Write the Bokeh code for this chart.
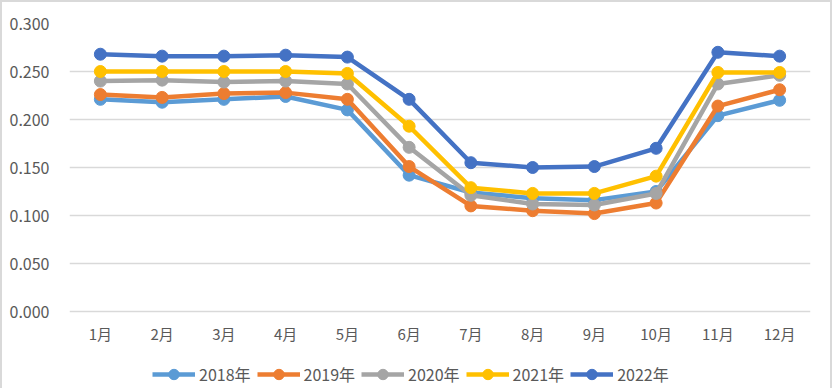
from bokeh.plotting import figure
from bokeh.models import NumeralTickFormatter, Legend, LegendItem, FixedTicker, Range1d
from bokeh.embed import file_html
from bokeh.resources import INLINE
from bokeh.core.properties import value

months = ["1月", "2月", "3月", "4月", "5月", "6月", "7月", "8月", "9月", "10月", "11月", "12月"]
series_names = ["2018年", "2019年", "2020年", "2021年", "2022年"]
y2018 = [0.221, 0.218, 0.221, 0.224, 0.210, 0.142, 0.124, 0.118, 0.116, 0.125, 0.204, 0.220]
y2019 = [0.226, 0.223, 0.227, 0.228, 0.221, 0.151, 0.110, 0.105, 0.102, 0.113, 0.214, 0.231]
y2020 = [0.240, 0.241, 0.239, 0.240, 0.237, 0.171, 0.121, 0.112, 0.111, 0.123, 0.237, 0.246]
y2021 = [0.250, 0.250, 0.250, 0.250, 0.248, 0.193, 0.129, 0.123, 0.123, 0.141, 0.249, 0.249]
y2022 = [0.268, 0.266, 0.266, 0.267, 0.265, 0.221, 0.155, 0.150, 0.151, 0.170, 0.270, 0.266]
y_ticks = [0.0, 0.05, 0.10, 0.15, 0.20, 0.25, 0.30]

colors = ["#5B9BD5", "#ED7D31", "#A5A5A5", "#FFC000", "#4472C4"]
all_series = [y2018, y2019, y2020, y2021, y2022]

FONT = "Noto Sans CJK SC"
TXT = "#595959"

# frame spans the full lower area; value 0 sits 77px above the bottom edge
Y_MAX = 0.3
Y_MIN = -Y_MAX * 77 / 288

p = figure(width=832, height=388, x_range=months, y_range=Range1d(Y_MIN, Y_MAX),
           x_axis_location=None,
           output_backend="svg", toolbar_location=None,
           min_border_left=69, min_border_right=22, min_border_top=23, min_border_bottom=0)
p.outline_line_color = None
p.background_fill_color = "white"
p.border_fill_color = None
p.styles = {"box-shadow": "inset 2px 2px 0 #D9D9D9, inset -2px 0 0 #D9D9D9",
            "background-color": "white"}

p.xgrid.grid_line_color = None
p.ygrid.grid_line_color = "#D9D9D9"
p.ygrid.grid_line_width = 1.3
p.ygrid.ticker = FixedTicker(ticks=y_ticks)

p.yaxis.ticker = FixedTicker(ticks=y_ticks)
p.yaxis.formatter = NumeralTickFormatter(format="0.000")
p.yaxis.axis_line_color = None
p.yaxis.major_tick_line_color = None
p.yaxis.minor_tick_line_color = None
p.yaxis.major_label_text_font = FONT
p.yaxis.major_label_text_font_size = "16px"
p.yaxis.major_label_text_color = TXT
p.yaxis.major_label_standoff = 14

# month labels under the zero line
p.text(x=months, y=[0] * len(months), text=months, y_offset=22,
       text_align="center", text_baseline="middle",
       text_font=value(FONT), text_font_size="15px", text_color=TXT)

items = []
for name, ys, c in zip(series_names, all_series, colors):
    r1 = p.line(months, ys, line_color=c, line_width=4.5, line_join="round")
    r2 = p.scatter(months, ys, size=12, fill_color=c, line_color=c)
    items.append(LegendItem(label=name, renderers=[r1, r2]))

legend = Legend(items=items, orientation="horizontal", location=(83, 1),
                label_text_font=FONT, label_text_font_size="16px", label_text_color=TXT,
                glyph_width=43, glyph_height=26, spacing=6, label_standoff=4,
                border_line_color=None, background_fill_alpha=0, margin=0, padding=0)
p.add_layout(legend, "center")

open("out.html", "w").write(file_html(p, INLINE))
